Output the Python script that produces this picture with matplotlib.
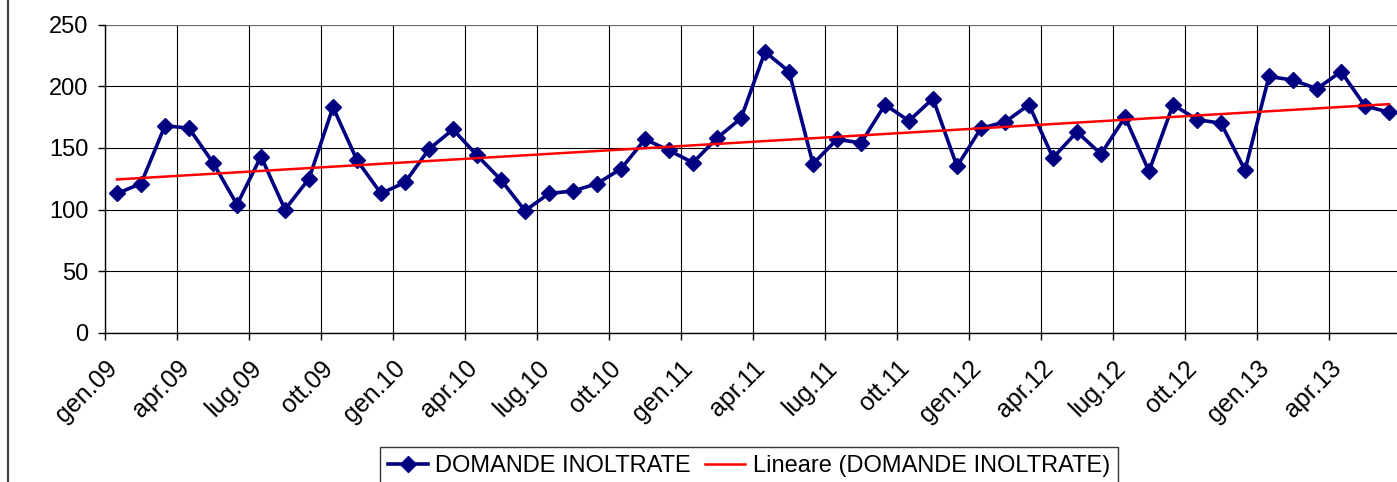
import numpy as np
import matplotlib
matplotlib.use("Agg")
import matplotlib.pyplot as plt
from matplotlib.lines import Line2D

plt.rcParams['font.family'] = ['Liberation Sans', 'DejaVu Sans']

# %% data: monthly requests, gen.09 .. giu.13
mesi = ["gen", "feb", "mar", "apr", "mag", "giu", "lug", "ago", "set", "ott", "nov", "dic"]
anni = ["09", "10", "11", "12", "13"]
domande = [113, 121, 168, 166, 138, 104, 143, 100, 125, 183,
           140, 113, 122, 149, 165, 144, 124, 99, 113, 115,
           121, 133, 157, 148, 138, 158, 174, 228, 212, 137,
           157, 154, 185, 172, 190, 135, 166, 171, 185, 142,
           163, 145, 175, 131, 185, 173, 170, 132, 208, 205,
           198, 212, 184, 179]
categorie = [f"{m}.{a}" for a in anni for m in mesi][:len(domande)]
y_ticks = [0, 50, 100, 150, 200, 250]

x = np.arange(len(domande))
slope, icpt = np.polyfit(x, domande, 1)
trend = slope * x + icpt

# %% figure
W, H = 1397, 482
fig = plt.figure(figsize=(W / 100, H / 100), dpi=100)
ax = fig.add_axes([105 / W, 1 - 332.7 / H, (1401 - 105) / W, (332.7 - 24.7) / H])

ax.plot(x, domande, color="#000080", lw=2.6, marker="D", ms=8.3, mew=1,
        label="DOMANDE INOLTRATE", zorder=3)
ax.plot(x, trend, color="#ff0000", lw=1.8, label="Lineare (DOMANDE INOLTRATE)", zorder=4)

ax.set_xlim(-0.5, len(domande) - 0.5)
ax.set_ylim(0, 250)
ax.set_yticks(y_ticks)
ax.tick_params(axis="y", labelsize=17, length=5, width=1, pad=7, color="black")

# quarterly boundaries carry grid lines and labels
bounds = np.arange(-0.5, len(domande), 3)
etichette = categorie[::3] + [""] * (len(bounds) - len(categorie[::3]))
ax.set_xticks(bounds)
ax.set_xticklabels(etichette, rotation=45, ha="right", va="top",
                   rotation_mode="anchor", fontsize=18)
ax.tick_params(axis="x", length=5, width=1, pad=12, color="black")
ax.grid(True, color="black", lw=0.8)
ax.set_axisbelow(True)

for s in ["top", "right"]:
    ax.spines[s].set_visible(False)
ax.spines["left"].set_linewidth(1)
ax.spines["bottom"].set_linewidth(1)
ax.axhline(250, color="#808080", lw=1.2, zorder=1)

# chart-area border on the left
fig.add_artist(Line2D([8 / W, 8 / W], [0, 1], color="#404040", lw=1.6))

leg = fig.legend(loc="upper center", bbox_to_anchor=(749 / W, 1 - 447 / H), ncol=2,
                 fontsize=17, frameon=True, fancybox=False, edgecolor="black",
                 handlelength=1.7, handletextpad=0.3, columnspacing=0.6,
                 borderpad=0.35, borderaxespad=0)
leg.get_frame().set_linewidth(1)

fig.savefig("out.png", dpi=100)
